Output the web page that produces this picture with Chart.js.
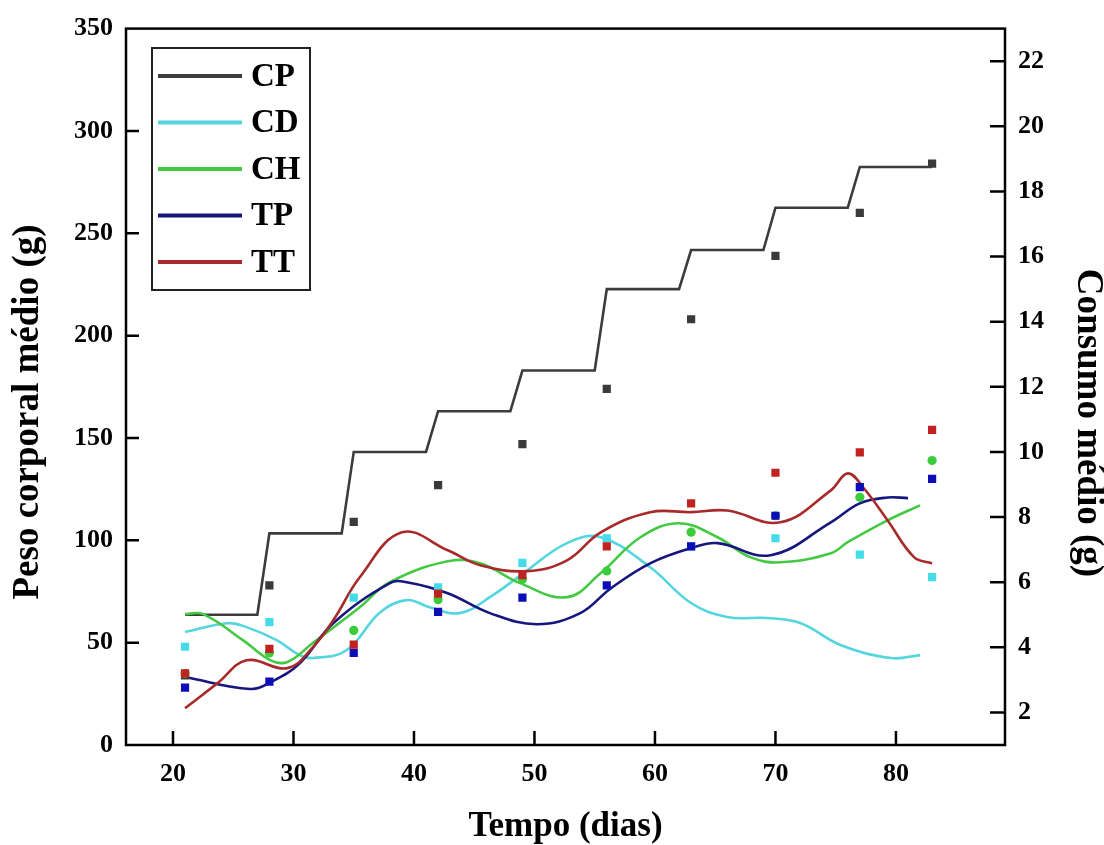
<!DOCTYPE html>
<html>
<head>
<meta charset="utf-8">
<script src="https://cdn.jsdelivr.net/npm/chart.js@4/dist/chart.umd.min.js"></script>
<style>
  html, body { margin: 0; padding: 0; background: #fff; }
</style>
</head>
<body>
<canvas id="grafico" width="1104" height="845"></canvas>
<script>
// Dias de pesagem e peso corporal médio (g) - eixo esquerdo
const dias = [21, 28, 35, 42, 49, 56, 63, 70, 77, 83];
const pesoCP = [34, 78, 109, 127, 147, 174, 208, 239, 260, 284];
const pesoCD = [48, 60, 72, 77, 89, 101, 97, 101, 93, 82];
const pesoCH = [35, 45, 56, 71, 81, 85, 104, 112, 121, 139];
const pesoTP = [28, 31, 45, 65, 72, 78, 97, 112, 126, 130];
const pesoTT = [35, 47, 49, 74, 83, 97, 118, 133, 143, 154];

// Consumo médio (g) - eixo direito
const cpDias = [21, 27, 28, 34, 35, 41, 42, 48, 49, 55, 56, 62, 63, 69, 70, 76, 77, 83];
const cpConsumo = [5, 5, 7.5, 7.5, 10, 10, 11.25, 11.25, 12.5, 12.5, 15, 15, 16.2, 16.2, 17.5, 17.5, 18.75, 18.75];

const cdDias = [21, 24.5, 26.1, 28.6, 30.5, 31.6, 34.4, 37.2, 39.4, 41.3, 43.8, 46.3, 49.1, 52.7, 55.5, 59.6, 63, 66, 69.3, 72.1, 75.4, 79.6, 82];
const cdConsumo = [4.47, 4.74, 4.62, 4.22, 3.76, 3.67, 3.91, 5.08, 5.45, 5.23, 5.05, 5.54, 6.28, 7.2, 7.38, 6.46, 5.36, 4.93, 4.9, 4.74, 4.07, 3.67, 3.76];

const chDias = [21, 22.5, 25.8, 28.1, 29.5, 31.6, 35.5, 38, 42.8, 45.5, 48.8, 52.7, 55.5, 58.8, 62, 65.2, 67.9, 70.4, 74.6, 76, 79.3, 82];
const chConsumo = [5.02, 5.02, 4.22, 3.6, 3.55, 4.13, 5.23, 6.0, 6.64, 6.58, 5.97, 5.54, 6.28, 7.38, 7.81, 7.38, 6.77, 6.61, 6.89, 7.23, 7.9, 8.36];

const tpDias = [21, 26.4, 28.1, 30.5, 33.3, 38, 39.4, 42.8, 46.3, 50.2, 53.8, 56.3, 59.6, 63.2, 65.2, 69.6, 74.6, 77, 79.3, 81];
const tpConsumo = [3.09, 2.72, 2.93, 3.5, 4.74, 5.97, 6.0, 5.66, 5.05, 4.71, 5.05, 5.8, 6.58, 7.07, 7.2, 6.83, 7.84, 8.42, 8.6, 8.58];

const ttDias = [21, 23.7, 26.1, 29.5, 31.6, 33.3, 35.5, 39, 42.8, 45.5, 49.4, 52.7, 55.5, 59.6, 63, 66, 70.4, 74.6, 76, 77.3, 79.3, 81.5, 83];
const ttConsumo = [2.13, 2.9, 3.6, 3.36, 4.0, 4.83, 6.15, 7.53, 6.98, 6.52, 6.34, 6.67, 7.53, 8.15, 8.15, 8.2, 7.84, 8.82, 9.34, 8.9, 7.9, 6.77, 6.58];

// Marcas dos eixos
const ticksX = [20, 30, 40, 50, 60, 70, 80];
const ticksPeso = [0, 50, 100, 150, 200, 250, 300, 350];
const ticksConsumo = [2, 4, 6, 8, 10, 12, 14, 16, 18, 20, 22];

const tituloX = 'Tempo (dias)';
const tituloPeso = 'Peso corporal médio (g)';
const tituloConsumo = 'Consumo médio (g)';

const fonte = "'Liberation Serif', 'Times New Roman', serif";

function pares(xs, ys) {
    return xs.map((x, i) => ({x: x, y: ys[i]}));
}

function linha(label, xs, ys, cor, tension, ordem) {
    return {
        type: 'line', label: label, legenda: true,
        data: pares(xs, ys), yAxisID: 'y1',
        borderColor: cor, borderWidth: 2.6, pointRadius: 0,
        tension: tension, fill: false, order: ordem
    };
}

function pontos(label, ys, cor, estilo, raio, ordem) {
    return {
        type: 'scatter', label: label,
        data: pares(dias, ys), yAxisID: 'y',
        backgroundColor: cor, borderColor: cor, borderWidth: 0,
        pointStyle: estilo, pointRadius: raio, order: ordem
    };
}

function texto(ctx, t, x, y, ang) {
    ctx.save();
    ctx.translate(x, y);
    ctx.rotate(ang);
    ctx.textAlign = 'center';
    ctx.textBaseline = 'middle';
    ctx.fillText(t, 0, 0);
    ctx.restore();
}

// moldura, marcas internas, títulos e legenda
const molduraPlugin = {
    id: 'moldura',
    afterDatasetsDraw(chart) {
        const {ctx, chartArea: a, scales} = chart;
        ctx.save();
        ctx.strokeStyle = '#000';
        ctx.lineWidth = 2.5;
        ctx.strokeRect(a.left, a.top, a.right - a.left, a.bottom - a.top);

        ctx.beginPath();
        scales.x.ticks.forEach(t => {
            const px = scales.x.getPixelForValue(t.value);
            ctx.moveTo(px, a.bottom);
            ctx.lineTo(px, a.bottom - 14);
        });
        scales.y.ticks.forEach(t => {
            if (t.value === 0 || t.value === 350) return;
            const py = scales.y.getPixelForValue(t.value);
            ctx.moveTo(a.left, py);
            ctx.lineTo(a.left + 13, py);
        });
        scales.y1.ticks.forEach(t => {
            const py = scales.y1.getPixelForValue(t.value);
            ctx.moveTo(a.right, py);
            ctx.lineTo(a.right - 15, py);
        });
        ctx.stroke();

        // títulos dos eixos
        ctx.fillStyle = '#000';
        ctx.font = 'bold 35px ' + fonte;
        texto(ctx, tituloX, (a.left + a.right) / 2, 827, 0);
        ctx.font = 'bold 37px ' + fonte;
        texto(ctx, tituloPeso, 28, 412, -Math.PI / 2);
        texto(ctx, tituloConsumo, 1088, 423, Math.PI / 2);

        // legenda
        const itens = chart.data.datasets.filter(d => d.legenda);
        ctx.lineWidth = 2;
        ctx.strokeStyle = '#222';
        ctx.strokeRect(152, 48, 158, 242);
        ctx.font = 'bold 33px ' + fonte;
        ctx.textBaseline = 'middle';
        itens.forEach((d, i) => {
            const yy = 76 + i * 46.5;
            ctx.strokeStyle = d.borderColor;
            ctx.lineWidth = 4;
            ctx.beginPath();
            ctx.moveTo(158, yy);
            ctx.lineTo(242, yy);
            ctx.stroke();
            ctx.fillText(d.label, 251, yy + 1);
        });
        ctx.restore();
    }
};

const fonteTicks = { family: fonte, size: 26, weight: 'bold' };

const ctx = document.getElementById('grafico').getContext('2d');
new Chart(ctx, {
    type: 'scatter',
    data: {
        datasets: [
            pontos('CP peso', pesoCP, '#3a3a3a', 'rect', 5.8, 5),
            pontos('CD peso', pesoCD, '#44dce6', 'rect', 5.8, 4),
            pontos('CH peso', pesoCH, '#3acd3a', 'circle', 4.6, 3),
            pontos('TP peso', pesoTP, '#0d0db8', 'rect', 5.8, 2),
            pontos('TT peso', pesoTT, '#c02222', 'rect', 5.8, 1),
            linha('CP', cpDias, cpConsumo, '#3c3c3c', 0, 14),
            linha('CD', cdDias, cdConsumo, '#55d6de', 0.4, 13),
            linha('CH', chDias, chConsumo, '#44c944', 0.4, 12),
            linha('TP', tpDias, tpConsumo, '#16167e', 0.4, 11),
            linha('TT', ttDias, ttConsumo, '#a82a2a', 0.4, 10)
        ]
    },
    options: {
        responsive: false,
        animation: false,
        layout: { padding: { top: 28, left: 0, right: 0, bottom: 0 } },
        plugins: { legend: { display: false }, tooltip: { enabled: false } },
        scales: {
            x: {
                type: 'linear', min: 16.1, max: 89.05,
                grid: { display: false, drawTicks: false, tickLength: 0 }, border: { display: false },
                afterBuildTicks: s => { s.ticks = ticksX.map(v => ({value: v})); },
                afterFit: s => { s.height = 100; },
                ticks: { color: '#000', padding: 14, font: fonteTicks },
                title: { display: false }
            },
            y: {
                position: 'left', min: 0, max: 350,
                grid: { display: false, drawTicks: false, tickLength: 0 }, border: { display: false },
                afterBuildTicks: s => { s.ticks = ticksPeso.map(v => ({value: v})); },
                afterFit: s => { s.width = 126; },
                ticks: { color: '#000', padding: 13, font: fonteTicks },
                title: { display: false }
            },
            y1: {
                position: 'right', min: 1, max: 23,
                grid: { display: false, drawTicks: false, tickLength: 0 }, border: { display: false },
                afterBuildTicks: s => { s.ticks = ticksConsumo.map(v => ({value: v})); },
                afterFit: s => { s.width = 99; },
                ticks: { color: '#000', padding: 13, font: fonteTicks },
                title: { display: false }
            }
        }
    },
    plugins: [molduraPlugin]
});
</script>
</body>
</html>
